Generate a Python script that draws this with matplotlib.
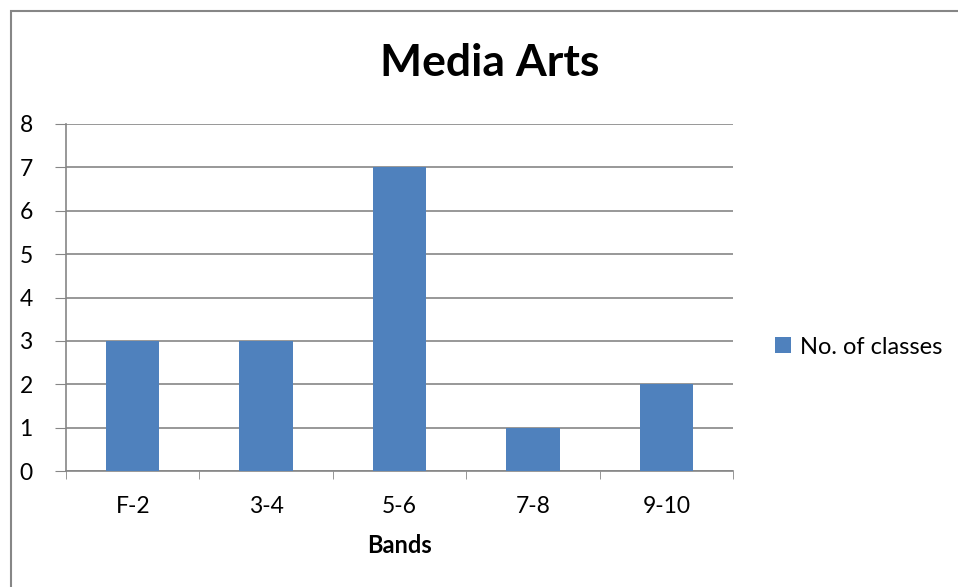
import matplotlib
matplotlib.use("Agg")
import matplotlib.pyplot as plt
from matplotlib.patches import Rectangle

# chart data
bands = ["F-2", "3-4", "5-6", "7-8", "9-10"]
classes = [3, 3, 7, 1, 2]
yticks = [0, 1, 2, 3, 4, 5, 6, 7, 8]

barColor = "#4F81BD"
lineColor = "#868686"
plt.rcParams["font.family"] = ["Lato", "DejaVu Sans"]

W, H = 958, 587
fig = plt.figure(figsize=(W / 100, H / 100), dpi=100)

# outer chart border
fig.patches.append(Rectangle((10.5 / W, -0.1), 1.2, 1.1 - 11 / H,
                             transform=fig.transFigure, fill=False,
                             edgecolor=lineColor, linewidth=1.5))

ax = fig.add_axes([66 / W, 1 - 471 / H, 667 / W, 347 / H])
x = list(range(len(bands)))
bars = ax.bar(x, classes, width=0.4, color=barColor, label="No. of classes", zorder=3)

ax.set_xlim(-0.5, len(bands) - 0.5)
ax.set_ylim(0, 8)
ax.set_yticks(yticks)
ax.set_xticks(x)
ax.set_xticklabels(bands, fontsize=16.5)
ax.set_xticks([i - 0.5 for i in range(len(bands) + 1)], minor=True)
ax.tick_params(axis="x", which="major", length=0, pad=18)
ax.tick_params(axis="x", which="minor", length=6, color=lineColor, direction="out")
ax.tick_params(axis="y", length=8, color=lineColor, labelsize=16.5, pad=16)

# horizontal gridlines
ax.yaxis.grid(True, color=lineColor, linewidth=1.2, zorder=0)
for s in ["top", "right"]:
    ax.spines[s].set_visible(False)
for s in ["left", "bottom"]:
    ax.spines[s].set_color(lineColor)
    ax.spines[s].set_linewidth(1.2)

ax.set_xlabel("Bands", fontsize=17, fontweight="bold", labelpad=12)
fig.text(490 / W, 1 - 63 / H, "Media Arts", fontsize=32, fontweight="bold",
         ha="center", va="center")

fig.legend(handles=[bars], loc="center left", bbox_to_anchor=(754 / W, 1 - 347 / H),
           frameon=False, fontsize=17, handlelength=0.65, handleheight=0.65,
           handletextpad=0.4)

fig.savefig("out.png", dpi=100)
